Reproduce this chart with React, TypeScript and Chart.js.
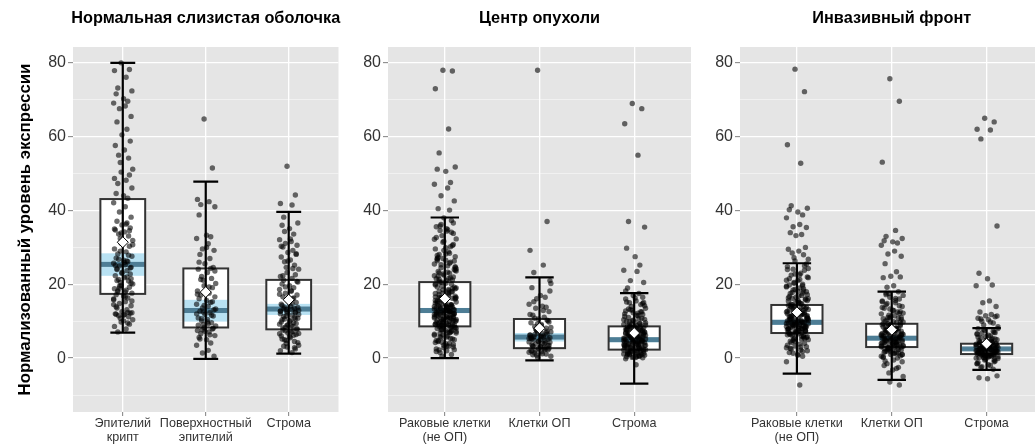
import React, { useEffect, useRef } from "react";
import { Chart, registerables } from "chart.js";
Chart.register(...registerables);

const FONT = "'Liberation Sans', Arial, Helvetica, sans-serif";

// ---------- labels ----------
const panelTitles = ["Нормальная слизистая оболочка", "Центр опухоли", "Инвазивный фронт"];
const yAxisTitle = "Нормализованный уровень экспрессии";
const categoriesNormal = [["Эпителий", "крипт"], ["Поверхностный", "эпителий"], ["Строма"]];
const categoriesTumor = [["Раковые клетки", "(не ОП)"], ["Клетки ОП"], ["Строма"]];
const yTickValues = [-10, 0, 10, 20, 30, 40, 50, 60, 70, 80];
const yMin = -14.6;
const yMax = 84.3;

// ---------- box statistics ----------
const normalLow = [6.9, -0.2, 1.2];
const normalQ1 = [17.4, 8.3, 7.8];
const normalMedian = [25.4, 12.9, 13.3];
const normalQ3 = [43.1, 24.3, 21.2];
const normalHigh = [80, 47.8, 39.6];
const normalCiLow = [22.3, 9.9, 11.7];
const normalCiHigh = [28.4, 15.8, 14.7];
const normalMean = [31.4, 17.9, 15.8];

const tumorLow = [0, -0.6, -6.9];
const tumorQ1 = [8.6, 2.7, 2.3];
const tumorMedian = [12.9, 5.7, 5.0];
const tumorQ3 = [20.6, 10.6, 8.6];
const tumorHigh = [38.1, 21.9, 17.6];
const tumorCiLow = [12.2, 4.5, 4.3];
const tumorCiHigh = [13.6, 6.8, 5.6];
const tumorMean = [16.1, 8.1, 6.8];

const invLow = [-4.2, -5.9, -3.2];
const invQ1 = [6.8, 3.0, 1.1];
const invMedian = [9.7, 5.4, 2.5];
const invQ3 = [14.4, 9.3, 3.9];
const invHigh = [25.7, 18.0, 8.1];
const invCiLow = [9.0, 4.8, 2.1];
const invCiHigh = [10.4, 6.0, 2.9];
const invMean = [12.4, 7.7, 3.9];

// ---------- observations ----------
const normalCryptPts = [80.0, 78.2, 77.9, 76.1, 73.2, 72.4, 71.6, 70.3, 69.6, 69.1, 68.3, 67.6, 65.5, 64.0, 62.0, 60.5, 58.8, 57.6, 56.4, 55.0, 54.2, 53.0, 51.2, 50.4, 49.6, 48.7, 48.2, 47.3, 46.1, 44.6, 44.0, 43.3, 42.1, 41.0, 39.6, 38.2, 37.1, 36.6, 36.1, 35.3, 34.7, 34.2, 33.6, 33.1, 32.4, 31.9, 31.1, 30.3, 29.6, 28.8, 28.2, 27.6, 27.1, 26.5, 26.1, 25.7, 25.3, 25.0, 24.6, 24.2, 23.7, 23.2, 22.8, 22.3, 21.8, 21.3, 20.9, 20.5, 20.1, 19.7, 19.2, 18.8, 18.4, 18.0, 17.6, 17.2, 16.8, 16.3, 15.8, 15.3, 14.8, 14.2, 13.6, 13.1, 12.6, 12.2, 12.0, 11.8, 11.5, 11.2, 10.8, 10.4, 9.8, 9.2, 8.6, 7.9, 7.1, 12.3, 11.9, 11.6, 12.4, 16.0, 17.9, 19.5, 20.3, 21.0, 22.0, 23.0, 24.4, 25.1, 25.9, 26.8, 27.9, 29.0, 30.7, 33.9, 34.5, 35.0, 36.3, 18.3, 15.5, 13.9, 10.1, 9.5, 14.5, 16.6, 19.0, 21.5, 24.0, 26.3];
const normalSurfacePts = [64.8, 51.5, 43.0, 42.4, 41.6, 41.0, 38.8, 33.3, 32.9, 32.4, 31.0, 29.6, 29.2, 28.1, 27.0, 25.6, 24.6, 24.1, 23.2, 22.1, 21.6, 21.1, 20.2, 19.6, 19.1, 18.2, 17.6, 17.1, 16.6, 16.1, 15.6, 15.1, 14.6, 14.1, 13.6, 13.1, 12.7, 12.3, 11.9, 11.4, 10.9, 10.5, 10.1, 9.6, 9.1, 8.7, 8.3, 7.9, 7.5, 7.1, 6.6, 6.1, 5.6, 5.0, 4.1, 3.5, 2.1, 1.4, 0.5, 5.2, 6.3, 7.3, 8.1, 8.9, 9.8, 10.7, 11.6, 12.5, 13.3, 14.3, 15.3, 17.3, 19.3, 21.3, 23.6, 26.0, 30.0, 24.3, 12.0, 9.3, 7.7];
const normalStromaPts = [52.0, 44.2, 41.9, 41.5, 38.2, 36.6, 36.0, 35.1, 33.6, 32.1, 31.6, 31.1, 30.6, 30.1, 29.2, 28.6, 28.1, 27.4, 26.6, 26.1, 25.2, 24.6, 24.1, 23.2, 22.6, 22.1, 21.6, 21.1, 20.6, 20.1, 19.6, 19.1, 18.6, 18.1, 17.6, 17.1, 16.6, 16.1, 15.6, 15.1, 14.6, 14.1, 13.8, 13.5, 13.2, 12.9, 12.6, 12.3, 12.0, 11.6, 11.2, 10.8, 10.4, 10.0, 9.6, 9.2, 8.8, 8.4, 8.0, 7.6, 7.2, 6.8, 6.4, 6.0, 5.5, 5.0, 4.5, 4.0, 3.5, 3.0, 2.5, 2.0, 1.5, 3.2, 4.2, 5.2, 5.8, 6.2, 6.6, 7.0, 7.4, 7.8, 8.2, 8.6, 9.0, 9.4, 9.8, 10.2, 10.6, 11.0, 11.4, 11.8, 12.2, 12.5, 12.8, 13.1, 13.4, 13.7, 14.3, 15.3, 16.3, 17.3, 18.3, 19.3, 20.8, 22.3, 24.3, 26.3, 28.3, 30.3, 32.3, 34.3, 2.8, 4.8, 6.7, 8.9, 10.7, 12.7, 14.8];

const tumorCancerPts = [78.0, 77.8, 73.0, 62.1, 55.6, 51.8, 51.2, 50.6, 47.6, 47.1, 46.1, 44.0, 42.6, 40.5, 40.1, 38.0, 36.6, 35.6, 35.1, 34.6, 34.1, 33.2, 32.3, 31.4, 30.5, 29.6, 28.8, 28.1, 27.5, 27.0, 26.5, 26.0, 25.5, 25.0, 24.5, 24.0, 23.5, 23.0, 22.5, 22.0, 21.5, 21.0, 20.5, 20.0, 19.5, 19.0, 18.5, 18.0, 17.5, 17.0, 16.5, 16.0, 15.5, 15.0, 14.5, 14.0, 13.7, 13.4, 13.1, 12.8, 12.5, 12.2, 11.9, 11.6, 11.3, 11.0, 10.7, 10.4, 10.1, 9.8, 9.5, 9.2, 8.9, 8.6, 8.3, 8.0, 7.5, 7.0, 6.5, 6.0, 5.5, 5.0, 4.5, 4.0, 3.5, 3.0, 2.5, 2.0, 1.5, 1.0, 0.5, 24.2, 22.8, 21.2, 19.8, 18.3, 17.2, 16.3, 15.3, 14.3, 13.9, 13.3, 12.9, 12.4, 12.0, 11.5, 11.1, 10.6, 10.2, 9.7, 9.3, 8.8, 8.4, 7.8, 7.2, 6.3, 5.2, 4.2, 3.2, 2.2, 16.8, 14.8, 13.0, 12.6, 11.8, 10.9, 9.9, 9.0, 14.2, 12.7, 2.8, 3.7, 4.8, 5.7, 6.7, 7.3, 7.7, 8.1, 8.5, 8.7, 9.1, 9.4, 9.6, 10.0, 10.3, 10.5, 10.8, 11.2, 11.4, 11.7, 12.1, 12.3, 12.6, 12.9, 13.2, 13.5, 13.8, 14.1, 14.4, 14.7, 15.2, 15.7, 16.2, 16.6, 17.4, 18.1, 18.8, 19.3, 20.3, 21.7, 22.3, 23.3, 25.3, 26.3, 27.3, 28.4, 29.2, 30.8, 32.7, 34.4, 35.8, 37.3, 4.3, 6.8, 9.6, 11.9, 14.9, 17.8, 20.8, 23.8, 26.8, 29.9, 8.2, 10.9, 13.6, 16.4, 19.2, 22.2, 25.7, 31.7, 33.8, 1.8, 3.3, 5.8, 7.4, 9.0, 10.5, 12.2, 13.9, 15.6, 18.6, 21.4, 24.6, 27.8, 3.9, 5.3, 6.2, 7.0, 7.6, 8.4, 9.2, 9.9, 10.6, 11.3, 12.0, 12.8, 13.6, 14.4, 15.4, 16.4, 17.6, 18.8, 20.1, 21.6, 23.1, 24.8, 26.4, 28.2, 30.2, 32.2, 34.8, 36.2, 2.3, 4.7, 6.9, 8.9, 10.8, 12.4, 14.0, 15.9, 18.0, 20.6, 23.6, 27.0];
const tumorImmunePts = [78.0, 37.0, 29.2, 25.2, 23.2, 21.0, 19.1, 17.0, 16.5, 14.6, 14.1, 13.5, 12.6, 11.6, 11.1, 10.6, 10.1, 9.6, 9.1, 8.6, 8.1, 7.6, 7.1, 6.8, 6.5, 6.2, 6.0, 5.8, 5.5, 5.2, 5.0, 4.7, 4.4, 4.1, 3.8, 3.5, 3.2, 2.9, 2.6, 2.3, 2.0, 1.7, 1.4, 1.1, 0.8, 0.5, 0.2, 7.3, 6.3, 5.6, 4.9, 4.3, 3.6, 3.0, 2.4, 1.6, 1.2, 2.1, 2.7, 3.3, 3.9, 4.5, 5.1, 5.4, 5.9, 6.4, 6.9, 7.4, 8.3, 9.3, 10.3, 11.8, 12.9, 15.3, 18.2, 1.9, 3.1, 4.2, 5.3, 6.6, 7.8, 9.8, 0.9, 2.5, 4.6, 3.4, 5.7, 8.8, 10.8, 13.8, 16.1, 20.2];
const tumorStromaPts = [69.0, 67.6, 63.5, 55.0, 37.0, 35.5, 29.8, 27.5, 25.2, 23.8, 23.5, 21.0, 20.5, 19.0, 17.5, 17.0, 16.5, 16.0, 15.5, 15.0, 14.5, 14.0, 13.5, 13.0, 12.5, 12.0, 11.5, 11.0, 10.5, 10.0, 9.7, 9.4, 9.1, 8.8, 8.5, 8.2, 7.9, 7.6, 7.3, 7.0, 6.7, 6.4, 6.1, 5.8, 5.5, 5.2, 4.9, 4.6, 4.3, 4.0, 3.7, 3.4, 3.1, 2.8, 2.5, 2.2, 1.9, 1.6, 1.3, 1.0, 0.7, 0.4, 0.1, -0.2, -1.8, 8.9, 8.0, 7.1, 6.2, 5.3, 4.4, 3.5, 2.6, 1.7, 0.8, 7.7, 6.6, 5.6, 4.7, 3.8, 2.9, 2.0, 1.2, 0.5, 10.3, 11.8, 12.8, 0.3, 0.9, 1.4, 1.8, 2.3, 2.7, 3.0, 3.3, 3.6, 3.9, 4.2, 4.5, 4.8, 5.1, 5.4, 5.7, 6.0, 6.3, 6.5, 6.9, 7.2, 7.5, 7.8, 8.1, 8.4, 8.7, 9.2, 9.6, 10.1, 10.8, 11.3, 12.2, 13.3, 14.2, 15.2, 16.3, 0.6, 1.1, 1.5, 2.1, 2.4, 3.2, 3.8, 4.1, 4.7, 5.0, 5.9, 6.8, 7.4, 8.3, 9.0, 0.2, 1.0, 2.9, 4.5, 6.1, 7.0, 0.4, 1.6, 2.7, 3.6, 4.4, 5.6, 6.6, 8.6, 10.7, 12.3, 14.8, 18.2, 0.3, 1.2, 2.0, 2.8, 3.5, 4.1, 4.7, 5.3, 5.9, 6.4, 7.0, 7.6, 8.3, 9.3, 10.4, 11.6, 13.1, 15.1, 1.7, 3.1, 4.4, 5.6, 6.9, 8.0, 9.8, 12.6];

const invCancerPts = [78.3, 72.2, 57.8, 52.8, 41.3, 40.6, 40.2, 39.6, 38.8, 38.0, 36.2, 35.6, 35.4, 34.0, 33.5, 33.2, 30.0, 29.5, 29.0, 28.5, 28.0, 27.2, 26.8, 26.3, 25.0, 24.0, 23.0, 22.5, 22.0, 21.5, 21.0, 20.0, 19.5, 19.0, 18.5, 18.0, 17.5, 17.0, 16.5, 16.0, 15.5, 15.0, 14.5, 14.0, 13.6, 13.2, 12.8, 12.4, 12.0, 11.6, 11.2, 10.8, 10.4, 10.0, 9.7, 9.4, 9.1, 8.8, 8.5, 8.2, 7.9, 7.6, 7.3, 7.0, 6.6, 6.2, 5.8, 5.4, 5.0, 4.5, 4.0, 3.5, 3.0, 2.5, 2.0, 1.5, 1.0, 0.5, -1.0, -7.3, 12.2, 11.4, 10.6, 9.9, 9.2, 8.6, 8.0, 7.4, 6.8, 6.0, 5.2, 10.2, 9.0, 8.3, 7.7, 14.8, 13.9, 17.2, 19.8, 0.8, 1.8, 2.8, 3.8, 4.8, 5.6, 6.4, 6.9, 7.2, 7.5, 7.8, 8.1, 8.4, 8.7, 8.9, 9.3, 9.6, 9.8, 10.1, 10.3, 10.7, 10.9, 11.3, 11.7, 12.1, 12.5, 12.9, 13.3, 13.7, 14.2, 14.7, 15.3, 15.8, 16.3, 16.8, 17.8, 18.8, 20.5, 21.8, 22.8, 23.8, 24.8, 2.2, 4.2, 5.8, 6.6, 7.1, 7.9, 8.6, 9.2, 9.9, 10.5, 11.1, 11.8, 12.6, 13.4, 14.3, 15.2, 16.2, 18.2, 20.3, 24.3, 3.3, 5.3, 6.3, 8.0, 9.5, 11.5, 13.1, 15.6, 17.6, 19.3, 21.3, 1.3, 3.1, 4.6, 5.9, 6.7, 7.4, 8.0, 8.6, 9.1, 9.6, 10.1, 10.6, 11.2, 11.9, 12.7, 13.6, 14.6, 15.6, 16.7, 18.1, 19.6, 21.1, 22.6, 24.1, 25.5, 2.6, 5.1, 7.0, 8.3, 9.4, 10.4, 11.5, 12.9, 14.1, 16.1, 18.6];
const invImmunePts = [75.7, 69.6, 53.1, 34.6, 33.0, 32.4, 31.8, 31.5, 31.2, 30.6, 29.0, 28.2, 27.6, 25.6, 23.4, 22.2, 22.0, 21.8, 19.6, 19.2, 18.0, 17.5, 17.0, 16.5, 16.0, 15.5, 15.0, 14.5, 14.0, 13.5, 13.0, 12.5, 12.0, 11.5, 11.0, 10.5, 10.0, 9.6, 9.2, 8.8, 8.4, 8.0, 7.6, 7.2, 6.8, 6.4, 6.0, 5.7, 5.4, 5.1, 4.8, 4.5, 4.2, 3.9, 3.6, 3.3, 3.0, 2.6, 2.2, 1.8, 1.4, 1.0, 0.6, 0.2, -0.5, -1.5, -2.5, -4.0, -5.0, -6.5, -7.3, 9.0, 8.2, 7.4, 6.6, 5.9, 5.2, 4.6, 4.0, 3.4, 2.8, 6.2, 5.0, 3.7, 11.2, 12.6, 0.4, 1.2, 1.9, 2.4, 2.9, 3.2, 3.5, 3.8, 4.1, 4.3, 4.6, 4.9, 5.3, 5.6, 5.8, 6.1, 6.5, 6.9, 7.3, 7.7, 8.1, 8.6, 9.1, 9.4, 9.9, 10.3, 10.8, 11.6, 12.2, 13.3, 14.2, 15.3, 16.2, 17.2, 0.9, 1.6, 2.0, 2.7, 3.1, 4.4, 5.5, 6.3, 7.0, 7.9, 8.9, 9.7, 10.7, 12.9, 14.8, 1.3, 2.5, 3.4, 4.7, 5.8, 6.7, 7.5, 8.5, -1.0, -2.0, -3.2, 0.0, 0.5, 1.4, 2.3, 3.0, 3.7, 4.3, 4.9, 5.5, 6.1, 6.7, 7.3, 8.0, 8.8, 9.8, 10.9, 12.1, 13.7, 15.6, 17.6, 1.0, 2.6, 3.9, 5.2, 6.4, 7.7, 9.3, 11.0, -0.8, -2.8, 1.7];
const invStromaPts = [65.0, 64.0, 62.0, 61.8, 59.4, 35.8, 23.0, 21.5, 19.8, 19.6, 15.5, 15.0, 14.0, 12.5, 11.8, 11.5, 11.2, 10.8, 10.4, 10.0, 9.5, 9.0, 8.0, 7.5, 7.0, 6.5, 6.0, 5.5, 5.0, 4.7, 4.4, 4.1, 3.8, 3.5, 3.2, 2.9, 2.6, 2.3, 2.0, 1.7, 1.4, 1.1, 0.8, 0.5, 0.2, -0.1, -0.5, -1.0, -1.5, -2.0, -2.5, -4.8, -5.3, -5.6, 4.3, 3.6, 3.0, 2.4, 1.8, 1.2, 0.6, 3.9, 2.7, 1.5, 0.3, 2.1, 1.0, 0.1, 0.4, 0.7, 0.9, 1.1, 1.3, 1.6, 1.9, 2.2, 2.5, 2.8, 3.1, 3.4, 3.7, 4.0, 4.2, 4.5, 4.8, 5.2, 5.7, 6.2, 6.8, 7.3, 7.8, 8.5, 1.0, 1.5, 2.0, 2.4, 2.7, 3.3, 3.8, 4.6, 5.4, 0.0, 0.6, 1.2, 1.8, 2.6, 3.5, -0.3, -0.8, -1.2, -1.8, -2.3, -3.0, 0.9, 1.7, 2.3, 3.0, 6.6, 9.8, 10.6, 11.4, 0.2, 0.8, 1.4, 2.0, 2.6, 3.2, 3.8, 4.4, 5.0, 5.8, 6.9, 8.0, 0.5, 1.1, 1.7, 2.3, 2.9, 3.6, -0.5, -1.5];

// horizontal jitter offsets (category units), cycled over points
const jitterOffsets = [-0.02, 0.08, -0.1, 0.04, -0.06, 0.11, -0.08, 0.01, 0.06, -0.11, 0.03, -0.04, 0.1, -0.07, 0.05, -0.01, 0.09, -0.09, 0.02, -0.05, 0.07, -0.03, 0.12];

type Stats = { lo: number[]; q1: number[]; med: number[]; q3: number[]; hi: number[]; ciLo: number[]; ciHi: number[]; mean: number[] };

const boxPlugin = {
  id: "ggbox",
  beforeDraw(chart: any) {
    const { ctx, chartArea: a } = chart;
    ctx.save();
    ctx.fillStyle = "#e5e5e5";
    ctx.fillRect(a.left, a.top, a.right - a.left, a.bottom - a.top);
    ctx.restore();
  },
  beforeDatasetsDraw(chart: any, _args: any, opts: any) {
    const s: Stats = opts.stats;
    if (!s) return;
    const { ctx } = chart;
    const xs = chart.scales.x;
    const ys = chart.scales.y;
    const half = 0.27;
    const cap = 0.15;
    ctx.save();
    for (let i = 0; i < s.q1.length; i++) {
      const xl = xs.getPixelForValue(i - half);
      const xr = xs.getPixelForValue(i + half);
      const xc = xs.getPixelForValue(i);
      const yq1 = ys.getPixelForValue(s.q1[i]);
      const yq3 = ys.getPixelForValue(s.q3[i]);
      ctx.fillStyle = "#ffffff";
      ctx.fillRect(xl, yq3, xr - xl, yq1 - yq3);
      const yc1 = ys.getPixelForValue(s.ciLo[i]);
      const yc2 = ys.getPixelForValue(s.ciHi[i]);
      ctx.fillStyle = "rgba(125, 200, 232, 0.55)";
      ctx.fillRect(xl, yc2, xr - xl, yc1 - yc2);
      const ym = ys.getPixelForValue(s.med[i]);
      ctx.fillStyle = "rgba(50, 100, 125, 0.8)";
      ctx.fillRect(xl, ym - 2.5, xr - xl, 5);
      ctx.strokeStyle = "#333333";
      ctx.lineWidth = 2;
      ctx.strokeRect(xl, yq3, xr - xl, yq1 - yq3);
      const ylo = ys.getPixelForValue(s.lo[i]);
      const yhi = ys.getPixelForValue(s.hi[i]);
      ctx.strokeStyle = "#000000";
      ctx.lineWidth = 2.2;
      ctx.beginPath();
      ctx.moveTo(xc, ylo);
      ctx.lineTo(xc, yhi);
      const cl = xs.getPixelForValue(i - cap);
      const cr = xs.getPixelForValue(i + cap);
      ctx.moveTo(cl, ylo);
      ctx.lineTo(cr, ylo);
      ctx.moveTo(cl, yhi);
      ctx.lineTo(cr, yhi);
      ctx.stroke();
    }
    ctx.restore();
  },
  afterDraw(chart: any, _args: any, opts: any) {
    const { ctx, chartArea: a } = chart;
    ctx.save();
    ctx.fillStyle = "#000000";
    ctx.font = `bold 16.3px ${FONT}`;
    ctx.textAlign = "center";
    ctx.textBaseline = "middle";
    ctx.fillText(opts.title, (a.left + a.right) / 2, 19);
    ctx.restore();
  },
};

type PanelProps = {
  title: string;
  cats: string[][];
  stats: Stats;
  groups: number[][];
  showYTitle: boolean;
  left: number;
  width: number;
  yAxisWidth: number;
  rightPad: number;
};

function Panel(p: PanelProps) {
  const ref = useRef<HTMLCanvasElement | null>(null);
  useEffect(() => {
    if (!ref.current) return;
    const pts: { x: number; y: number }[] = [];
    p.groups.forEach((g, gi) => {
      g.forEach((v, k) => pts.push({ x: gi + jitterOffsets[k % jitterOffsets.length], y: v }));
    });
    const means = p.stats.mean.map((m, i) => ({ x: i, y: m }));
    const chart = new Chart(ref.current, {
      type: "scatter",
      data: {
        datasets: [
          {
            data: pts,
            pointRadius: 2.7,
            pointBackgroundColor: "rgba(0,0,0,0.58)",
            pointBorderWidth: 0,
            pointBorderColor: "rgba(0,0,0,0)",
            order: 2,
          },
          {
            data: means,
            pointStyle: "rectRot",
            pointRadius: 5.5,
            pointBackgroundColor: "#ffffff",
            pointBorderColor: "#000000",
            pointBorderWidth: 1,
            order: 1,
          },
        ],
      },
      options: {
        animation: false,
        responsive: false,
        devicePixelRatio: 1,
        layout: { padding: { left: 0, right: p.rightPad, top: 47, bottom: 0 } },
        plugins: {
          legend: { display: false },
          tooltip: { enabled: false },
          ggbox: { stats: p.stats, title: p.title },
        } as any,
        scales: {
          x: {
            type: "linear",
            min: -0.6,
            max: 2.6,
            afterBuildTicks: (s: any) => {
              s.ticks = p.cats.map((_, i) => ({ value: i }));
            },
            afterFit: (s: any) => {
              s.height = 33;
            },
            border: { display: false },
            grid: { color: "#ffffff", lineWidth: 1.3, tickLength: 4, tickColor: "#7f7f7f", tickWidth: 1 },
            ticks: {
              autoSkip: false,
              maxRotation: 0,
              padding: 1,
              color: "#333333",
              font: { family: FONT, size: 12.6, lineHeight: 1.08 },
              callback: (v: any) => p.cats[Number(v)] ?? "",
            },
          },
          y: {
            type: "linear",
            min: yMin,
            max: yMax,
            afterBuildTicks: (s: any) => {
              s.ticks = yTickValues.map((v) => ({ value: v }));
            },
            afterFit: (s: any) => {
              s.width = p.yAxisWidth;
            },
            border: { display: false },
            grid: {
              color: (c: any) => (c.tick && c.tick.value % 20 === 0 ? "#ffffff" : "rgba(255,255,255,0.75)"),
              lineWidth: (c: any) => (c.tick && c.tick.value % 20 === 0 ? 1.3 : 0.6),
              tickLength: 5,
              tickColor: (c: any) => (c.tick && c.tick.value % 20 === 0 ? "#7f7f7f" : "rgba(0,0,0,0)"),
              tickWidth: 1,
            },
            ticks: {
              autoSkip: false,
              padding: 2,
              color: "#333333",
              font: { family: FONT, size: 16 },
              callback: (v: any) => (Number(v) % 20 === 0 ? String(v) : ""),
            },
            title: {
              display: p.showYTitle,
              text: yAxisTitle,
              color: "#000000",
              font: { family: FONT, size: 16.8, weight: "bold" },
              padding: { top: 15, bottom: 0 },
            },
          },
        },
      },
      plugins: [boxPlugin as any],
    });
    return () => chart.destroy();
  }, []);
  return (
    <canvas
      ref={ref}
      width={p.width}
      height={445}
      style={{ position: "absolute", left: p.left, top: 0, width: p.width, height: 445, display: "block" }}
    />
  );
}

const normalStats: Stats = { lo: normalLow, q1: normalQ1, med: normalMedian, q3: normalQ3, hi: normalHigh, ciLo: normalCiLow, ciHi: normalCiHigh, mean: normalMean };
const tumorStats: Stats = { lo: tumorLow, q1: tumorQ1, med: tumorMedian, q3: tumorQ3, hi: tumorHigh, ciLo: tumorCiLow, ciHi: tumorCiHigh, mean: tumorMean };
const invStats: Stats = { lo: invLow, q1: invQ1, med: invMedian, q3: invQ3, hi: invHigh, ciLo: invCiLow, ciHi: invCiHigh, mean: invMean };

export default function App() {
  return (
    <div style={{ position: "absolute", left: 0, top: 0, width: 1035, height: 445, overflow: "hidden", background: "#ffffff" }}>
      <Panel title={panelTitles[0]} cats={categoriesNormal} stats={normalStats} groups={[normalCryptPts, normalSurfacePts, normalStromaPts]} showYTitle={true} left={0} width={345} yAxisWidth={73} rightPad={6} />
      <Panel title={panelTitles[1]} cats={categoriesTumor} stats={tumorStats} groups={[tumorCancerPts, tumorImmunePts, tumorStromaPts]} showYTitle={false} left={345} width={355} yAxisWidth={43} rightPad={9} />
      <Panel title={panelTitles[2]} cats={categoriesTumor} stats={invStats} groups={[invCancerPts, invImmunePts, invStromaPts]} showYTitle={false} left={700} width={350} yAxisWidth={40} rightPad={5} />
    </div>
  );
}
